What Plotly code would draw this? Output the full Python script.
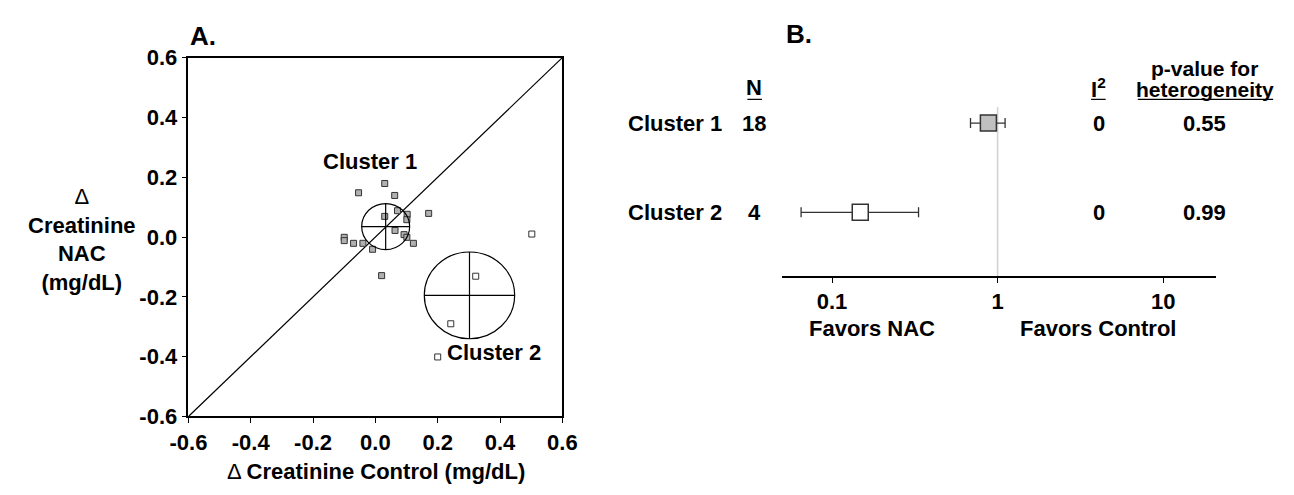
import plotly.graph_objects as go

# ---------------- data ----------------
# Panel A: change in creatinine (mg/dL)
cluster1_x = [0.030, -0.054, 0.062, 0.071, 0.102, 0.101, 0.030, 0.171, 0.063,
              0.092, 0.101, 0.122, -0.100, -0.100, -0.070, -0.040, -0.009, 0.020]
cluster1_y = [0.179, 0.148, 0.139, 0.088, 0.076, 0.058, 0.069, 0.079, 0.022,
              0.008, -0.001, -0.021, -0.001, -0.012, -0.021, -0.021, -0.041, -0.129]
cluster2_x = [0.502, 0.322, 0.242, 0.200]
cluster2_y = [0.010, -0.131, -0.290, -0.401]

circle_cx = [0.033, 0.302]
circle_cy = [0.035, -0.195]
circle_r = [0.077, 0.145]

axis_ticks = [-0.6, -0.4, -0.2, 0.0, 0.2, 0.4, 0.6]
axis_ticktext = ["-0.6", "-0.4", "-0.2", "0.0", "0.2", "0.4", "0.6"]

# Panel B: forest plot
clusters = ["Cluster 1", "Cluster 2"]
n_studies = [18, 4]
estimate = [0.88, 0.148]
ci_low = [0.686, 0.065]
ci_high = [1.11, 0.333]
i2 = [0, 0]
p_het = ["0.55", "0.99"]
forest_ticks = [0.1, 1, 10]
forest_ticktext = ["0.1", "1", "10"]

# ---------------- layout helpers ----------------
W, H = 1294, 495
FONT = "Liberation Sans, Arial, sans-serif"
FS = 22


def px(x):
    return x / W


def py(y):
    return 1 - y / H


fig = go.Figure()

# diagonal identity line
fig.add_trace(go.Scatter(x=[axis_ticks[0], axis_ticks[-1]], y=[axis_ticks[0], axis_ticks[-1]],
                         mode="lines", line=dict(color="black", width=1.2),
                         xaxis="x", yaxis="y", hoverinfo="skip", showlegend=False))

fig.add_trace(go.Scatter(x=cluster1_x, y=cluster1_y, mode="markers",
                         marker=dict(symbol="square", size=6, color="#b0b0b0",
                                     line=dict(color="#333333", width=1)),
                         xaxis="x", yaxis="y", showlegend=False))
fig.add_trace(go.Scatter(x=cluster2_x, y=cluster2_y, mode="markers",
                         marker=dict(symbol="square", size=6, color="white",
                                     line=dict(color="#333333", width=1)),
                         xaxis="x", yaxis="y", showlegend=False))

shapes = []
for cx, cy, r in zip(circle_cx, circle_cy, circle_r):
    shapes.append(dict(type="circle", xref="x", yref="y", x0=cx - r, x1=cx + r,
                       y0=cy - r, y1=cy + r, line=dict(color="black", width=1.2)))
    shapes.append(dict(type="line", xref="x", yref="y", x0=cx - r, x1=cx + r,
                       y0=cy, y1=cy, line=dict(color="black", width=1.2)))
    shapes.append(dict(type="line", xref="x", yref="y", x0=cx, x1=cx,
                       y0=cy - r, y1=cy + r, line=dict(color="black", width=1.2)))

# Panel B
rows = list(range(len(clusters), 0, -1))
fills = ["#c0c0c0", "white"]
for i in range(len(clusters)):
    fig.add_trace(go.Scatter(
        x=[estimate[i]], y=[rows[i]], mode="markers",
        marker=dict(symbol="square", size=16, color=fills[i],
                    line=dict(color="#333333", width=1.5)),
        error_x=dict(type="data", symmetric=False,
                     array=[ci_high[i] - estimate[i]],
                     arrayminus=[estimate[i] - ci_low[i]],
                     color="#333333", thickness=1.3, width=5),
        xaxis="x2", yaxis="y2", showlegend=False))

shapes.append(dict(type="line", xref="x2", yref="y2 domain", x0=1, x1=1, y0=0, y1=1,
                   layer="below", line=dict(color="#d3d3d3", width=1.6)))

ann = []


def text(t, x, y, size=FS, xanchor="center", yref="paper", bold=True):
    ann.append(dict(text=f"<b>{t}</b>" if bold else t, x=x, y=y, xref="paper", yref=yref,
                    xanchor=xanchor, yanchor="middle", showarrow=False,
                    font=dict(family=FONT, size=size, color="black")))


text("A.", px(174), py(25), size=26, xanchor="left")
text("B.", px(786), py(23), size=26, xanchor="left")
text("Δ<br><b>Creatinine</b><br><b>NAC</b><br><b>(mg/dL)</b>", px(65), py(240), bold=False)
text("Δ <b>Creatinine Control (mg/dL)</b>", px(367), py(484), bold=False)
text("Cluster 1", px(360), py(157))
text("Cluster 2", px(488), py(359))

text("N", px(755), py(80))
text("I<sup>2</sup>", px(1109), py(80))
text("p-value for", px(1218), py(59), size=21)
text("heterogeneity", px(1218), py(82), size=21)
for (x0, x1) in [(748, 763), (1101, 1116), (1149, 1288)]:
    shapes.append(dict(type="line", xref="paper", yref="paper", x0=px(x0), x1=px(x1),
                       y0=py(92), y1=py(92), line=dict(color="black", width=1.2)))

for i in range(len(clusters)):
    text(clusters[i], px(623), rows[i], xanchor="left", yref="y2")
    text(str(n_studies[i]), px(755), rows[i], yref="y2")
    text(str(i2[i]), px(1109), rows[i], yref="y2")
    text(p_het[i], px(1218), rows[i], yref="y2")

text("Favors NAC", px(876), py(333))
text("Favors Control", px(1108), py(333))

tickfont = dict(family=FONT, size=FS, color="black")
fig.update_layout(
    width=W, height=H, autosize=False,
    margin=dict(l=0, r=0, t=0, b=0),
    paper_bgcolor="white", plot_bgcolor="white",
    xaxis=dict(domain=[px(174), px(558)], range=[-0.6, 0.6], tickvals=axis_ticks,
               ticktext=["<b>%s</b>" % t for t in axis_ticktext], tickfont=tickfont,
               showline=True, linecolor="black", linewidth=1.5, mirror=True,
               ticks="outside", ticklen=5, tickcolor="black", showgrid=False,
               zeroline=False, anchor="y"),
    yaxis=dict(domain=[py(426), py(48)], range=[-0.6, 0.6], tickvals=axis_ticks,
               ticktext=["<b>%s</b>" % t for t in axis_ticktext], tickfont=tickfont,
               showline=True, linecolor="black", linewidth=1.5, mirror=True,
               ticks="outside", ticklen=5, tickcolor="black", showgrid=False,
               zeroline=False, anchor="x"),
    xaxis2=dict(domain=[px(784), px(1229.4)], type="log", range=[-1.3, 1.32],
                tickvals=forest_ticks, ticktext=["<b>%s</b>" % t for t in forest_ticktext],
                tickfont=tickfont, showline=True, linecolor="black", linewidth=1.5,
                ticks="outside", ticklen=5, tickcolor="black", showgrid=False,
                zeroline=False, anchor="y2"),
    yaxis2=dict(domain=[py(278), py(100)], range=[0.287, 2.181], visible=False,
                anchor="x2"),
    shapes=shapes, annotations=ann,
)

fig.write_html("out.html", config={"displayModeBar": False},
               post_script="document.body.style.margin='0';document.body.style.overflow='hidden';")
